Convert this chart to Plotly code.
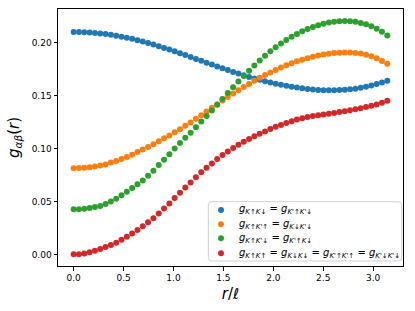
import numpy as np
import plotly.graph_objects as go

r = np.linspace(0, np.pi, 60)

g_blue = [0.2100,0.2099,0.2097,0.2094,0.2090,0.2085,0.2079,0.2072,0.2064,0.2055,
          0.2045,0.2034,0.2022,0.2009,0.1995,0.1980,0.1965,0.1949,0.1933,0.1916,
          0.1899,0.1881,0.1863,0.1845,0.1827,0.1809,0.1791,0.1773,0.1756,0.1739,
          0.1722,0.1706,0.1690,0.1675,0.1661,0.1647,0.1634,0.1622,0.1611,0.1600,
          0.1591,0.1582,0.1574,0.1567,0.1560,0.1555,0.1551,0.1549,0.1548,0.1549,
          0.1551,0.1554,0.1558,0.1563,0.1572,0.1582,0.1594,0.1607,0.1622,0.1638]

g_orange = [0.0813,0.0814,0.0817,0.0822,0.0829,0.0838,0.0849,0.0866,0.0881,0.0899,
            0.0919,0.0941,0.0965,0.0989,0.1014,0.1040,0.1067,0.1095,0.1123,0.1152,
            0.1182,0.1213,0.1245,0.1280,0.1314,0.1349,0.1384,0.1418,0.1452,0.1486,
            0.1519,0.1550,0.1580,0.1609,0.1638,0.1666,0.1692,0.1717,0.1741,0.1764,
            0.1785,0.1804,0.1822,0.1838,0.1852,0.1865,0.1876,0.1886,0.1894,0.1900,
            0.1904,0.1906,0.1905,0.1901,0.1895,0.1885,0.1870,0.1850,0.1826,0.1798]

g_green = [0.0425,0.0426,0.0431,0.0438,0.0446,0.0457,0.0476,0.0498,0.0525,0.0557,
           0.0591,0.0627,0.0662,0.0697,0.0741,0.0790,0.0843,0.0893,0.0946,0.0999,
           0.1050,0.1100,0.1148,0.1200,0.1253,0.1306,0.1359,0.1413,0.1467,0.1522,
           0.1577,0.1631,0.1684,0.1734,0.1783,0.1830,0.1875,0.1916,0.1955,0.1991,
           0.2024,0.2054,0.2081,0.2105,0.2127,0.2146,0.2163,0.2177,0.2188,0.2196,
           0.2201,0.2203,0.2201,0.2195,0.2185,0.2171,0.2153,0.2130,0.2101,0.2066]

g_red = [0.0000,0.0002,0.0009,0.0020,0.0035,0.0051,0.0070,0.0088,0.0110,0.0138,
         0.0167,0.0197,0.0230,0.0265,0.0302,0.0340,0.0385,0.0432,0.0481,0.0531,
         0.0581,0.0630,0.0678,0.0727,0.0774,0.0817,0.0858,0.0899,0.0937,0.0971,
         0.1003,0.1034,0.1063,0.1090,0.1115,0.1138,0.1160,0.1184,0.1204,0.1222,
         0.1240,0.1257,0.1272,0.1285,0.1296,0.1306,0.1314,0.1321,0.1328,0.1335,
         0.1343,0.1351,0.1360,0.1369,0.1379,0.1390,0.1402,0.1415,0.1431,0.1450]

labels = [
    "<i>g</i><sub><i>K</i>↑<i>K</i>↓</sub> = <i>g</i><sub><i>K</i>'↑<i>K</i>'↓</sub>",
    "<i>g</i><sub><i>K</i>↑<i>K</i>'↑</sub> = <i>g</i><sub><i>K</i>↓<i>K</i>'↓</sub>",
    "<i>g</i><sub><i>K</i>↑<i>K</i>'↓</sub> = <i>g</i><sub><i>K</i>'↑<i>K</i>↓</sub>",
    "<i>g</i><sub><i>K</i>↑<i>K</i>↑</sub> = <i>g</i><sub><i>K</i>↓<i>K</i>↓</sub> = "
    "<i>g</i><sub><i>K</i>'↑<i>K</i>'↑</sub> = <i>g</i><sub><i>K</i>'↓<i>K</i>'↓</sub>",
]
colors = ["#1f77b4", "#ff7f0e", "#2ca02c", "#d62728"]
series = [g_blue, g_orange, g_green, g_red]

fig = go.Figure()
for ys, lab, c in zip(series, labels, colors):
    fig.add_trace(go.Scatter(x=r, y=ys, mode="markers", name=lab, showlegend=False,
                             marker=dict(color=c, size=6, line=dict(width=0))))

# legend drawn in paper coordinates (box, marker dots, texts)
bx0, bx1, by0, by1 = 0.4357, 0.9962, 0.0195, 0.2502
rx, ry = 0.009, 0.012
path = (f"M {bx0+rx},{by0} L {bx1-rx},{by0} Q {bx1},{by0} {bx1},{by0+ry} "
        f"L {bx1},{by1-ry} Q {bx1},{by1} {bx1-rx},{by1} L {bx0+rx},{by1} "
        f"Q {bx0},{by1} {bx0},{by1-ry} L {bx0},{by0+ry} Q {bx0},{by0} {bx0+rx},{by0} Z")
shapes = [dict(type="path", path=path, xref="paper", yref="paper",
               line=dict(color="#d0d0d0", width=1), fillcolor="rgba(255,255,255,0.8)")]
annotations = []
row_y = [0.2179, 0.1623, 0.1078, 0.0494]
mx, tx = 0.4725, 0.5180
dx, dy = 3.0 / 345, 3.0 / 257
for yy, lab, c in zip(row_y, labels, colors):
    shapes.append(dict(type="circle", xref="paper", yref="paper",
                       x0=mx - dx, x1=mx + dx, y0=yy - dy, y1=yy + dy,
                       fillcolor=c, line=dict(width=0)))
    annotations.append(dict(x=tx, y=yy, xref="paper", yref="paper", text=lab,
                            showarrow=False, xanchor="left", yanchor="middle",
                            font=dict(family="DejaVu Sans", size=10, color="black")))

axis_common = dict(showline=True, linecolor="black", linewidth=1, mirror=True,
                   ticks="outside", ticklen=3.5, tickwidth=0.8, tickcolor="black",
                   showgrid=False, zeroline=False, automargin=False,
                   tickfont=dict(family="DejaVu Sans", size=9, color="black"))

fig.update_layout(
    width=415, height=311,
    margin=dict(l=58, r=12, t=9, b=45),
    paper_bgcolor="white", plot_bgcolor="white",
    xaxis=dict(range=[-0.157, 3.299], tickvals=[0, 0.5, 1, 1.5, 2, 2.5, 3],
               tickformat=".1f",
               title=dict(text="<i>r</i>/<i>ℓ</i>", standoff=6,
                          font=dict(family="DejaVu Sans", size=15, color="black")),
               **axis_common),
    yaxis=dict(range=[-0.011, 0.2316], tickvals=[0, 0.05, 0.1, 0.15, 0.2],
               tickformat=".2f",
               title=dict(text="<i>g</i><sub><i>αβ</i></sub>(<i>r</i>)", standoff=8,
                          font=dict(family="DejaVu Sans", size=15, color="black")),
               **axis_common),
    shapes=shapes,
    annotations=annotations,
    showlegend=False,
)

fig.write_html("out.html", config={"displayModeBar": False},
               post_script="document.body.style.margin='0';")
